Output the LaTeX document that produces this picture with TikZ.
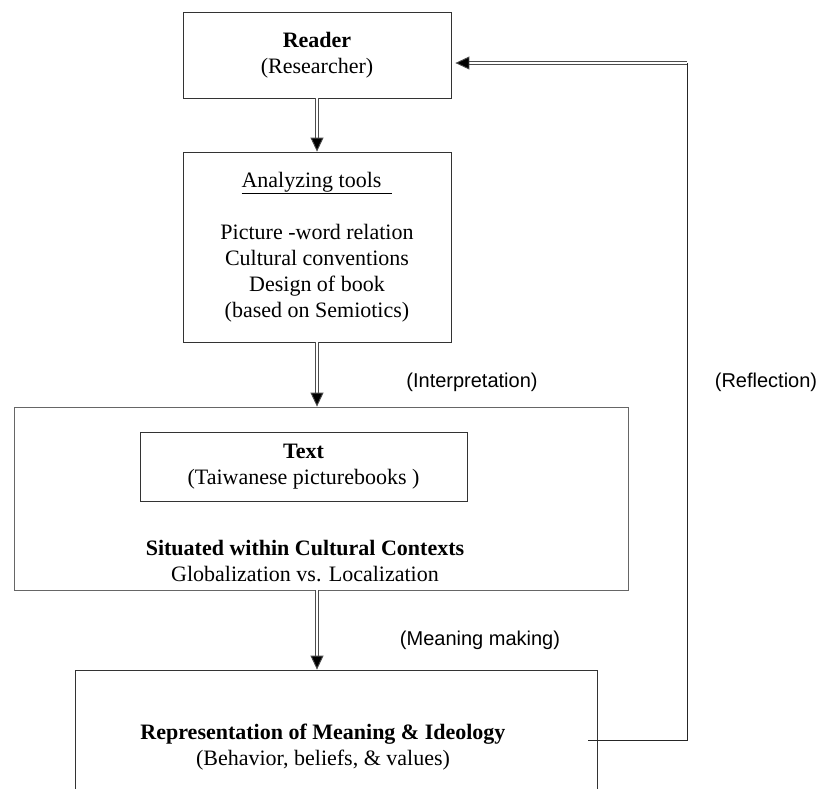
\documentclass[tikz,border=0pt]{standalone}
\usepackage{fontspec}
\setmainfont{Liberation Serif}
\newfontfamily\tagfont{Liberation Sans}
\usetikzlibrary{arrows.meta}
\begin{document}
\begin{tikzpicture}[x=1pt, y=-1pt,
    box/.style={draw=black!80, line width=0.8pt, rectangle, inner sep=0pt, align=center,
      font=\fontsize{22}{26}\selectfont},
    words/.style={align=center, inner sep=0pt, font=\fontsize{22}{26}\selectfont},
    tag/.style={inner sep=0pt, font=\tagfont\fontsize{20}{24}\selectfont},
    flow/.style={draw=black!70, line width=0.9pt, double=white, double distance=2.2pt,
      -{Triangle[length=14pt, width=13pt, fill=black]}},
    back/.style={draw=black!85, line width=0.8pt}]
  \useasboundingbox (0,0) rectangle (822,788);
  % boxes
  \node[box, minimum width=268, minimum height=86] (reader) at (317,55) {\textbf{Reader}\\(Researcher)};
  \node[box, minimum width=268, minimum height=190] (tools) at (317,247)
    {\underline{Analyzing tools\ \ }\\[26pt]Picture -word relation\\Cultural conventions\\Design of book\\(based on Semiotics)};
  \node[box, draw=black!60, minimum width=614, minimum height=183] (context) at (321,498.5) {};
  \node[box, minimum width=327, minimum height=69] (textbox) at (303.5,466.5) {\textbf{Text}\\(Taiwanese picturebooks )};
  \node[words] (situated) at (305,561) {\textbf{Situated within Cultural Contexts}\\Globalization vs. Localization};
  \node[box, minimum width=522, minimum height=150] (represent) at (336,745) {};
  \node[words] (meaningtext) at (323,747) {\textbf{Representation of Meaning \& Ideology}\\(Behavior, beliefs, \& values)};
  % labels
  \node[tag] (interp) at (472,382) {(Interpretation)};
  \node[tag] (reflect) at (766,382) {(Reflection)};
  \node[tag] (meaning) at (480,640) {(Meaning making)};
  % arrows
  \draw[flow] (reader) -- (tools);
  \draw[flow] (tools.south) -- (tools.south |- context.north);
  \draw[flow] (tools.south |- context.south) -- (tools.south |- represent.north);
  % feedback loop
  \coordinate (fbstart) at (588,740);
  \coordinate (fbcorner) at (687,740);
  \coordinate (fbtop) at (687,63);
  \draw[back] (fbstart) -- (fbcorner) -- (fbtop);
  \draw[flow, shorten >=4pt] (fbtop) -- (reader.east |- fbtop);
\end{tikzpicture}
\end{document}
